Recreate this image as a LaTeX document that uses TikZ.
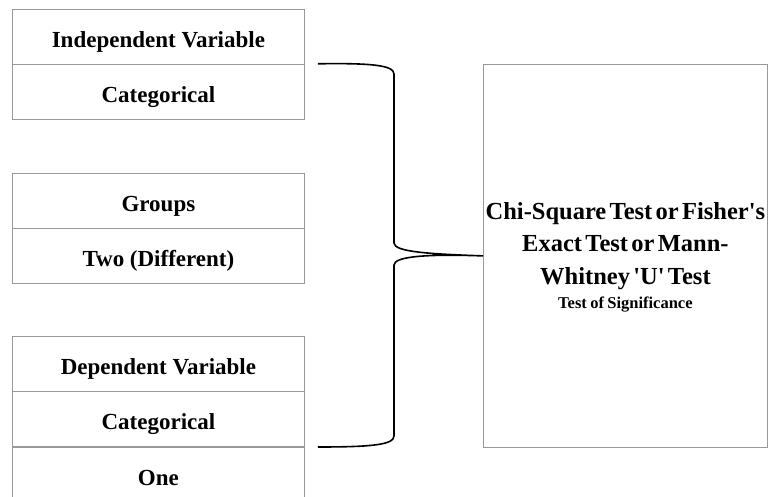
\documentclass[tikz,border=0pt]{standalone}
\usepackage{fontspec}
\setmainfont{Liberation Serif}
\usetikzlibrary{calc}
\begin{document}
\begin{tikzpicture}[x=1pt,y=-1pt,
  cell/.style={draw=black!40, line width=0.8pt, minimum width=292pt, minimum height=55pt,
    inner sep=0pt, anchor=north west, text height=21pt, text depth=0pt,
    font=\bfseries\fontsize{23}{26}\selectfont},
  bigbox/.style={draw=black!40, line width=0.8pt, minimum width=284pt, minimum height=383pt,
    inner sep=0pt, anchor=north west},
  restext/.style={inner sep=0pt, align=center, text width=300pt},
  bracestyle/.style={draw=black, line width=1.6pt}]
\useasboundingbox (0,0) rectangle (768,497);
\clip (0,0) rectangle (768,497);
% top group
\node[cell] (iv) at (12,9) {Independent Variable};
\node[cell] (ivc) at (12,64) {Categorical};
% middle group
\node[cell] (gr) at (12,173) {Groups};
\node[cell] (grt) at (12,228) {Two (Different)};
% bottom group
\node[cell] (dv) at (12,336) {Dependent Variable};
\node[cell] (dvc) at (12,391) {Categorical};
\node[cell] (one) at (12,447) {One};
% result box
\node[bigbox] (res) at (483,64) {};
\node[restext] (rt) at ($(res.center)+(0,1)$) {%
  {\bfseries\fontsize{24.5}{32.5}\selectfont Chi-Square Test or Fisher\textquotesingle s\\
  Exact Test or Mann-\\
  Whitney \textquotesingle U\textquotesingle{} Test\par}%
  {\bfseries\fontsize{16.5}{24}\selectfont Test of Significance\par}};
% brace
\coordinate (btop) at ($(iv.south east)+(13,-1)$);
\coordinate (bbot) at ($(one.north east)+(13,0)$);
\path (res.west) coordinate (tip);
\draw[bracestyle] (btop) .. controls (370,63) and (394,65) .. (394,74)
  -- (394,243) .. controls (394,252) and (430,254) .. (tip)
  .. controls (430,254) and (394,256) .. (394,265)
  -- (394,436) .. controls (394,445) and (370,447) .. (bbot);
\end{tikzpicture}
\end{document}
